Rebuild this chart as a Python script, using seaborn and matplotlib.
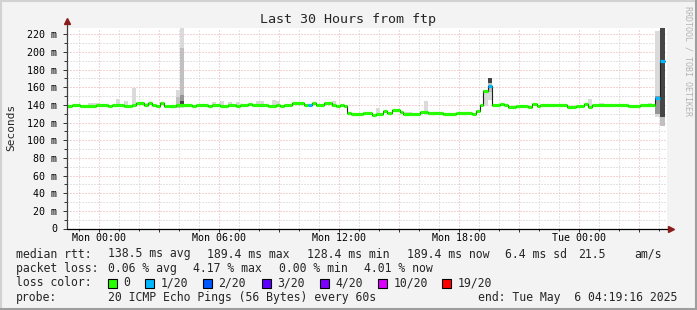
import numpy as np
import pandas as pd
import matplotlib
matplotlib.use("Agg")
import matplotlib.pyplot as plt
from matplotlib.lines import Line2D
from matplotlib.patches import Rectangle
import seaborn as sns

# time is given in hours relative to Mon 00:00
view_start = -1.60
view_end = 28.40

# median rtt (ms), one value per step, step starts at median_start
median_start = [-1.60, -1.35, -0.95, -0.15, 0.45, 0.65, 1.25, 1.65, 1.85, 2.25,
                2.45, 2.65, 2.85, 3.05, 3.25, 3.85, 4.65, 4.85, 5.45, 5.65,
                6.05, 6.45, 6.85, 7.05, 7.45, 7.65, 8.45, 8.85, 9.05, 9.25,
                9.65, 10.25, 10.45, 10.65, 10.85, 11.25, 11.65, 11.85, 12.05, 12.25,
                12.40, 12.60, 13.20, 13.65, 13.85, 14.20, 14.40, 14.65, 15.05, 15.20,
                16.05, 16.45, 17.20, 17.85, 18.65, 18.85, 19.05, 19.20, 19.45, 19.65,
                20.05, 20.25, 20.45, 20.85, 21.45, 21.65, 21.90, 22.05, 22.85, 23.40,
                23.85, 24.25, 24.45, 24.65, 25.85, 26.45, 27.05, 27.80, 28.05]
median_end = 28.28
median_ms = [138.7, 140.2, 138.7, 140.2, 138.7, 140.2, 138.7, 140.2, 141.8, 140.2,
             141.8, 140.2, 138.7, 141.8, 138.7, 140.2, 138.7, 140.2, 138.7, 140.2,
             139.0, 140.2, 138.7, 140.2, 141.5, 140.2, 138.7, 140.2, 138.7, 140.2,
             142.5, 140.2, 140.2, 141.8, 140.2, 141.8, 140.2, 139.0, 140.2, 139.0,
             130.8, 129.2, 131.1, 128.4, 130.0, 133.4, 130.4, 134.2, 132.3, 129.6,
             131.5, 130.4, 129.3, 130.4, 129.3, 132.7, 139.5, 155.7, 161.4, 139.5,
             140.7, 139.5, 137.9, 139.0, 137.9, 140.7, 139.0, 140.0, 139.3, 137.9,
             138.7, 140.6, 137.9, 140.2, 139.3, 138.3, 139.3, 147.8, 189.4]
# index into loss_labels
median_loss = [0, 0, 0, 0, 0, 0, 0, 0, 0, 0,
               0, 0, 0, 0, 0, 0, 0, 0, 0, 0,
               0, 0, 0, 0, 0, 0, 0, 0, 0, 0,
               0, 0, 1, 0, 0, 0, 0, 0, 0, 0,
               0, 0, 0, 0, 0, 0, 0, 0, 0, 0,
               0, 0, 0, 0, 0, 0, 0, 0, 1, 0,
               0, 0, 0, 0, 0, 0, 0, 0, 0, 0,
               0, 0, 0, 0, 0, 0, 0, 1, 1]

# smoke (spread of the 20 pings), level 0 = outer ... 3 = inner
smoke_start = [-0.55, 0.85, 1.25, 1.65, 2.25, 3.85, 3.85, 4.05, 4.05, 4.05, 4.05,
               5.65, 6.05, 6.45, 6.85, 7.85, 8.65, 8.85, 11.65, 13.85, 15.25,
               16.25, 16.45, 17.05, 19.20, 19.45, 19.45, 19.45, 24.45, 25.05, 27.45,
               27.80, 27.80, 28.05, 28.05]
smoke_end = [0.00, 1.05, 1.45, 1.85, 2.45, 4.05, 4.05, 4.25, 4.25, 4.25, 4.25,
             5.85, 6.25, 6.65, 7.05, 8.25, 8.85, 9.05, 11.85, 14.05, 15.65,
             16.45, 16.65, 17.20, 19.45, 19.65, 19.65, 19.65, 24.65, 25.25, 27.65,
             28.05, 28.05, 28.28, 28.28]
smoke_lo = [139.5, 138.0, 138.0, 138.0, 138.0, 136.0, 137.0, 137.0, 141.0, 141.0, 141.0,
            138.0, 138.0, 138.0, 138.0, 138.0, 138.0, 138.0, 138.0, 128.0, 128.0,
            128.0, 128.0, 129.0, 139.0, 145.0, 155.0, 164.7, 137.0, 138.0, 138.0,
            126.6, 130.0, 116.0, 126.0]
smoke_hi = [142.3, 146.6, 144.4, 159.5, 142.5, 156.8, 149.0, 232.0, 204.0, 151.0, 144.0,
            143.3, 144.7, 143.3, 143.3, 144.7, 145.5, 144.7, 144.7, 136.1, 132.1,
            144.4, 132.1, 131.6, 157.0, 170.4, 170.4, 170.4, 146.6, 142.0, 142.0,
            223.6, 150.0, 226.7, 226.7]
smoke_level = [0, 0, 0, 0, 0, 0, 1, 0, 1, 2, 3,
               0, 0, 0, 0, 0, 0, 0, 0, 0, 0,
               0, 0, 0, 0, 0, 1, 3, 0, 0, 0,
               0, 2, 1, 3]
smoke_colors = ["#dadada", "#c0c0c0", "#969696", "#454545"]

loss_labels = ["0", "1/20", "2/20", "3/20", "4/20", "10/20", "19/20"]
loss_colors = ["#26ff00", "#00b8ff", "#0059ff", "#5e00ff", "#7e00ff", "#dd00ff", "#ff0000"]
loss_box_x = [108, 145, 203, 262, 320, 378, 442]

xtick_hours = [0, 3, 6, 9, 12, 15, 18, 21, 24, 27]
xtick_labels = ["Mon 00:00", "", "Mon 06:00", "", "Mon 12:00", "",
                "Mon 18:00", "", "Tue 00:00", ""]
ytick_values = [0, 20, 40, 60, 80, 100, 120, 140, 160, 180, 200, 220]
ytick_labels = ["0"] + [f"{v} m" for v in ytick_values[1:]]

W, H = 697, 310


def fx(x):
    return x / W


def fy(y):
    return 1 - y / H


sns.set_style("white")
plt.rcParams["font.family"] = ["DejaVu Sans Mono"]

fig = plt.figure(figsize=(W / 100, H / 100), dpi=100, facecolor="#f3f3f3")
ax = fig.add_axes([fx(67), fy(228.5), 600 / W, 201 / H])
ax.set_facecolor("white")

# smoke
for x0, x1, lo, hi, lev in zip(smoke_start, smoke_end, smoke_lo, smoke_hi, smoke_level):
    ax.bar(x0, hi - lo, bottom=lo, width=x1 - x0, align="edge",
           color=smoke_colors[lev], linewidth=0, zorder=1)

# thin dark median line with the vertical steps
line_df = pd.DataFrame({"hour": median_start + [median_end],
                        "rtt": median_ms + [median_ms[-1]]})
sns.lineplot(data=line_df, x="hour", y="rtt", ax=ax, color="#202020", lw=0.8,
             drawstyle="steps-post", estimator=None, sort=False, zorder=3)

# loss coloured median segments
seg_end = median_start[1:] + [median_end]
ax.hlines(median_ms, median_start, seg_end,
          colors=[loss_colors[l] for l in median_loss], lw=2.3, zorder=4)

ax.set_xlim(view_start, view_end)
ax.set_ylim(0, 227.6)
ax.set_xlabel("")
ax.set_ylabel("")

ax.set_xticks(xtick_hours)
ax.set_xticklabels(xtick_labels)
ax.set_xticks(np.arange(-1, 29, 1), minor=True)
ax.set_yticks(ytick_values)
ax.set_yticklabels(ytick_labels)
ax.set_yticks(np.arange(10, 227, 10), minor=True)

ax.grid(which="major", color="#e8a8a8", linestyle=(0, (1, 2)), lw=0.72, zorder=0)
ax.grid(which="minor", color="#c8c8c8", linestyle=(0, (1, 2)), lw=0.72, zorder=0)
ax.set_axisbelow(True)

ax.tick_params(axis="both", which="both", labelsize=7.2, colors="#333333",
               labelcolor="black")
ax.tick_params(axis="y", which="major", length=3, width=0.7, pad=4)
ax.tick_params(axis="y", which="minor", length=2, width=0.7)
ax.tick_params(axis="x", which="major", length=2, width=0.7, pad=1.5)
ax.tick_params(axis="x", which="minor", length=1.5, width=0.7)
ax.tick_params(axis="y", which="both", left=True)
ax.tick_params(axis="x", which="both", bottom=True)

for s in ax.spines.values():
    s.set_visible(False)

# axis lines with arrows
ax.plot([0, 0], [0, 1.01], transform=ax.transAxes, color="#404040", lw=0.9,
        clip_on=False, zorder=5)
ax.plot([0, 1.004], [0, 0], transform=ax.transAxes, color="black", lw=0.9,
        clip_on=False, zorder=5)
ax.plot([0], [1.03], transform=ax.transAxes, marker="^", ms=4.2, color="#8b1c1c",
        clip_on=False, zorder=6)
ax.plot([1.007], [0], transform=ax.transAxes, marker=">", ms=4.2, color="#8b1c1c",
        clip_on=False, zorder=6)

# title, unit, watermark
fig.text(fx(348), fy(19), "Last 30 Hours from ftp", ha="center", va="center",
         fontsize=9.6)
fig.text(fx(11), fy(127), "Seconds", ha="center", va="center", rotation=90,
         fontsize=8)
fig.text(fx(688), fy(61), "RRDTOOL / TOBI OETIKER", ha="center", va="center",
         rotation=270, fontsize=6, color="#b4b4b4")

# legend
leg = 8.3
row1 = [(16, "median rtt:"), (107.6, "138.5 ms avg"), (207, "189.4 ms max"),
        (307, "128.4 ms min"), (407, "189.4 ms now"), (505, "6.4 ms sd"),
        (578, "21.5"), (634, "am/s")]
row2 = [(16, "packet loss:"), (107.6, "0.06 % avg"), (193, "4.17 % max"),
        (279, "0.00 % min"), (364.4, "4.01 % now")]
row4 = [(16, "probe:"), (107.6, "20 ICMP Echo Pings (56 Bytes) every 60s"),
        (478, "end: Tue May  6 04:19:16 2025")]
for yy, row in [(254, row1), (268.5, row2), (297, row4)]:
    for xx, t in row:
        fig.text(fx(xx), fy(yy), t, ha="left", va="center", fontsize=leg)
fig.text(fx(16), fy(283), "loss color:", ha="left", va="center", fontsize=leg)
for bx, lab, col in zip(loss_box_x, loss_labels, loss_colors):
    fig.add_artist(Rectangle((fx(bx), fy(287.5)), 8.5 / W, 9 / H,
                             transform=fig.transFigure, facecolor=col,
                             edgecolor="black", lw=0.8))
    fig.text(fx(bx + 15.6), fy(283), lab, ha="left", va="center", fontsize=leg)

# frame of the image
fig.add_artist(Line2D([0, 1], [fy(1), fy(1)], transform=fig.transFigure,
                      color="#d2d2d2", lw=1.5))
fig.add_artist(Line2D([fx(1), fx(1)], [0, 1], transform=fig.transFigure,
                      color="#d2d2d2", lw=1.5))
fig.add_artist(Line2D([0, 1], [fy(308.5), fy(308.5)], transform=fig.transFigure,
                      color="#9e9e9e", lw=2.2))
fig.add_artist(Line2D([fx(695.5), fx(695.5)], [0, 1], transform=fig.transFigure,
                      color="#9e9e9e", lw=2.2))

fig.savefig("out.png", dpi=100, facecolor=fig.get_facecolor())
